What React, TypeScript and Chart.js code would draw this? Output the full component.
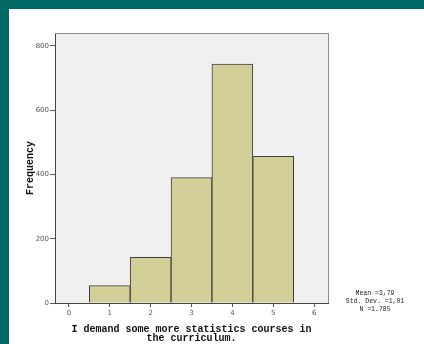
import React, { useEffect, useRef } from "react";
import { Chart, registerables } from "chart.js";

Chart.register(...registerables);

const categories = [1, 2, 3, 4, 5];
const frequencies = [54, 142, 390, 743, 456];
const xTicks = [0, 1, 2, 3, 4, 5, 6];
const yTicks = [0, 200, 400, 600, 800];
const xTitleLines = ["I demand some more statistics courses in", "the curriculum."];
const yTitle = "Frequency";
const statsLines = ["Mean =3,79", "Std. Dev. =1,01", "N =1.785"];

const W = 424;
const H = 344;

const decorPlugin = {
  id: "decor",
  beforeDraw(chart: any) {
    const { ctx, chartArea: a } = chart;
    ctx.save();
    ctx.fillStyle = "#f0f0f0";
    ctx.fillRect(a.left, a.top, a.right - a.left, a.bottom - a.top);
    ctx.restore();
  },
  afterDraw(chart: any) {
    const { ctx, chartArea: a } = chart;
    ctx.save();
    ctx.strokeStyle = "#8c8c8c";
    ctx.lineWidth = 1;
    ctx.beginPath();
    ctx.moveTo(a.left, a.top + 0.5);
    ctx.lineTo(a.right + 0.5, a.top + 0.5);
    ctx.lineTo(a.right + 0.5, a.bottom);
    ctx.stroke();

    ctx.fillStyle = "#111";
    ctx.textAlign = "center";
    ctx.textBaseline = "middle";
    ctx.font = "bold 10px 'Liberation Mono', monospace";
    const cx = (a.left + a.right) / 2;
    ctx.fillText(xTitleLines[0], cx, 329);
    ctx.fillText(xTitleLines[1], cx, 338.5);

    ctx.save();
    ctx.translate(30.5, (a.top + a.bottom) / 2);
    ctx.rotate(-Math.PI / 2);
    ctx.fillText(yTitle, 0, 0);
    ctx.restore();

    ctx.font = "6.5px 'Liberation Mono', monospace";
    ctx.fillStyle = "#222";
    statsLines.forEach((s, i) => ctx.fillText(s, 375, 293 + i * 8));
    ctx.restore();
  },
};

export default function App() {
  const ref = useRef<HTMLCanvasElement>(null);
  useEffect(() => {
    if (!ref.current) return;
    const chart = new Chart(ref.current, {
      type: "bar",
      data: {
        datasets: [
          {
            data: categories.map((c, i) => ({ x: c, y: frequencies[i] })),
            backgroundColor: "#d3cf98",
            borderColor: "#404040",
            borderWidth: 1,
            barPercentage: 1,
            categoryPercentage: 1,
          },
        ],
      },
      options: {
        animation: false,
        responsive: false,
        layout: { padding: { left: 35, top: 33, right: 96, bottom: 25 } },
        plugins: { legend: { display: false }, tooltip: { enabled: false } },
        scales: {
          x: {
            type: "linear",
            offset: false,
            min: -0.34,
            max: 6.34,
            afterBuildTicks: (s: any) => {
              s.ticks = xTicks.map((v) => ({ value: v }));
            },
            afterFit: (s: any) => {
              s.height = 16;
            },
            grid: { offset: false, drawOnChartArea: false, drawTicks: true, tickLength: 4, color: "#555" },
            border: { display: true, color: "#444" },
            ticks: { font: { size: 7, family: "'DejaVu Sans', sans-serif" }, color: "#555", padding: 2, maxRotation: 0 },
          },
          y: {
            min: 0,
            max: 840,
            afterBuildTicks: (s: any) => {
              s.ticks = yTicks.map((v) => ({ value: v }));
            },
            afterFit: (s: any) => {
              s.width = 20;
            },
            grid: { drawOnChartArea: false, drawTicks: true, tickLength: 5, color: "#555" },
            border: { display: true, color: "#444" },
            ticks: { font: { size: 7, family: "'DejaVu Sans', sans-serif" }, color: "#555", padding: 1 },
          },
        },
      },
      plugins: [decorPlugin],
    });
    return () => chart.destroy();
  }, []);

  return (
    <div style={{ position: "fixed", left: 0, top: 0, width: W, height: H, background: "#006966" }}>
      <div style={{ position: "absolute", left: 9, top: 9, width: W - 9, height: H - 9, background: "#ffffff" }} />
      <canvas ref={ref} width={W} height={H} style={{ position: "absolute", left: 0, top: 0, width: W, height: H }} />
    </div>
  );
}
